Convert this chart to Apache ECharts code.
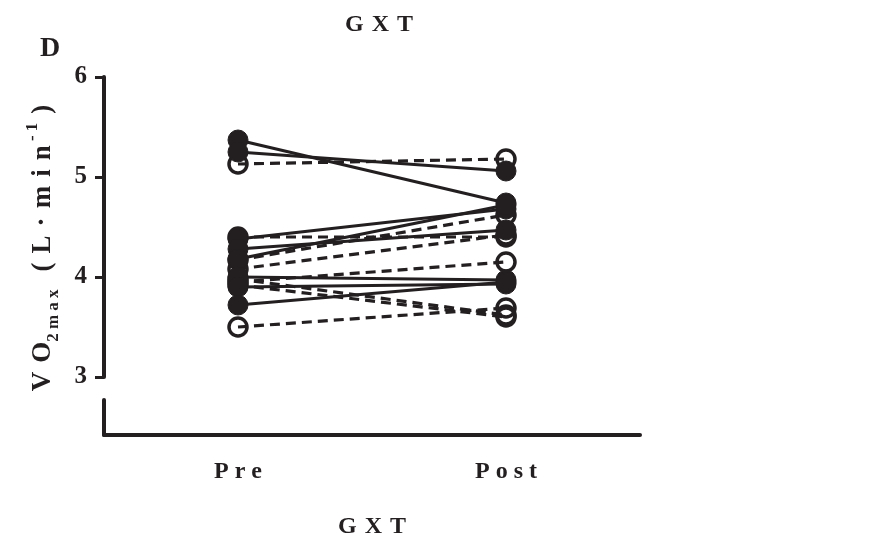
<!DOCTYPE html>
<html>
<head>
<meta charset="utf-8">
<script src="https://cdn.jsdelivr.net/npm/echarts@6/dist/echarts.min.js"></script>
<style>
html,body{margin:0;padding:0;background:#fff;}
#main{width:869px;height:550px;}
</style>
</head>
<body>
<div id="main"></div>
<script>
// ---- data ----
const categories = ['P r e', 'P o s t'];
// filled circles, solid lines (pre -> post)
const preFilled  = [5.37, 5.25, 4.38, 4.28, 4.18, 4.00, 3.90, 3.72];
const postFilled = [4.74, 5.06, 4.68, 4.47, 4.72, 3.97, 3.93, 3.95];
// open circles, dashed lines (pre -> post)
const preOpen  = [5.13, 4.40, 4.17, 4.08, 3.95, 3.98, 3.50, 3.92];
const postOpen = [5.18, 4.40, 4.62, 4.42, 4.15, 3.62, 3.69, 3.60];
const yTicks = [3, 4, 5, 6];

const INK = '#231f20';
const FONT = '"Liberation Serif", "DejaVu Serif", serif';
const S = '\u2004';

const series = [];
preOpen.forEach((v, i) => {
  series.push({
    type: 'line', xAxisIndex: 0, yAxisIndex: 0,
    data: [v, postOpen[i]],
    symbol: 'circle', symbolSize: 18,
    lineStyle: { color: INK, width: 3.2, type: [10, 6] },
    itemStyle: { color: 'rgba(255,255,255,0)', borderColor: INK, borderWidth: 3.5 },
    emphasis: { disabled: true }, animation: false, z: 2
  });
});
preFilled.forEach((v, i) => {
  series.push({
    type: 'line', xAxisIndex: 0, yAxisIndex: 0,
    data: [v, postFilled[i]],
    symbol: 'circle', symbolSize: 20,
    lineStyle: { color: INK, width: 3.2, type: 'solid' },
    itemStyle: { color: INK, borderColor: INK, borderWidth: 1 },
    emphasis: { disabled: true }, animation: false, z: 3
  });
});

const yName = '{n|V' + S + 'O}{sub|2 m a x}{n|' + S + S + '(' + S + 'L' + S + '·' + S + 'm' + S + 'i' + S + 'n}{sup| - 1}{n|' + S + ')}';

const chart = echarts.init(document.getElementById('main'), null, { renderer: 'canvas' });
chart.setOption({
  backgroundColor: '#fff',
  animation: false,
  title: [
    { text: 'G' + S + 'X' + S + 'T', left: 374, top: 8, textAlign: 'center',
      textStyle: { fontFamily: FONT, fontWeight: 'bold', fontSize: 24, color: INK } },
    { text: 'D', left: 35, top: 30,
      textStyle: { fontFamily: FONT, fontWeight: 'bold', fontSize: 28, color: INK } }
  ],
  grid: [
    { left: 104, right: 229, top: 77, height: 300 },
    { left: 104, right: 229, top: 400, height: 35 }
  ],
  xAxis: [
    { gridIndex: 0, type: 'category', data: categories, show: false, boundaryGap: true },
    { gridIndex: 1, type: 'category', data: categories, boundaryGap: true,
      axisLine: { lineStyle: { color: INK, width: 4 } },
      axisTick: { alignWithLabel: true, length: 8, lineStyle: { color: INK, width: 3 } },
      axisLabel: { fontFamily: FONT, fontWeight: 'bold', fontSize: 24, color: INK, margin: 25 },
      name: 'G' + S + 'X' + S + 'T', nameLocation: 'middle', nameGap: 80,
      nameTextStyle: { fontFamily: FONT, fontWeight: 'bold', fontSize: 24, color: INK } }
  ],
  yAxis: [
    { gridIndex: 0, type: 'value', min: 3, max: 6, interval: 1,
      axisLine: { show: true, lineStyle: { color: INK, width: 4 } },
      axisTick: { show: true, length: 9, lineStyle: { color: INK, width: 3 }, customValues: yTicks },
      axisLabel: { fontFamily: FONT, fontWeight: 'bold', fontSize: 25, color: INK, margin: 17, customValues: yTicks },
      splitLine: { show: false },
      name: yName,
      nameLocation: 'middle', nameGap: 42, nameRotate: 90,
      nameTextStyle: {
        fontFamily: FONT, fontWeight: 'bold', fontSize: 27, color: INK, padding: [0, 42, 0, 0],
        rich: {
          n: { fontFamily: FONT, fontWeight: 'bold', fontSize: 27, color: INK, lineHeight: 38, verticalAlign: 'middle' },
          sub: { fontFamily: FONT, fontWeight: 'bold', fontSize: 17, color: INK, lineHeight: 38, verticalAlign: 'bottom' },
          sup: { fontFamily: FONT, fontWeight: 'bold', fontSize: 17, color: INK, lineHeight: 38, verticalAlign: 'top' }
        }
      } },
    { gridIndex: 1, type: 'value', min: 0, max: 1,
      axisLine: { show: true, lineStyle: { color: INK, width: 4 } },
      axisTick: { show: false }, axisLabel: { show: false }, splitLine: { show: false } }
  ],
  series: series
});
</script>
</body>
</html>
